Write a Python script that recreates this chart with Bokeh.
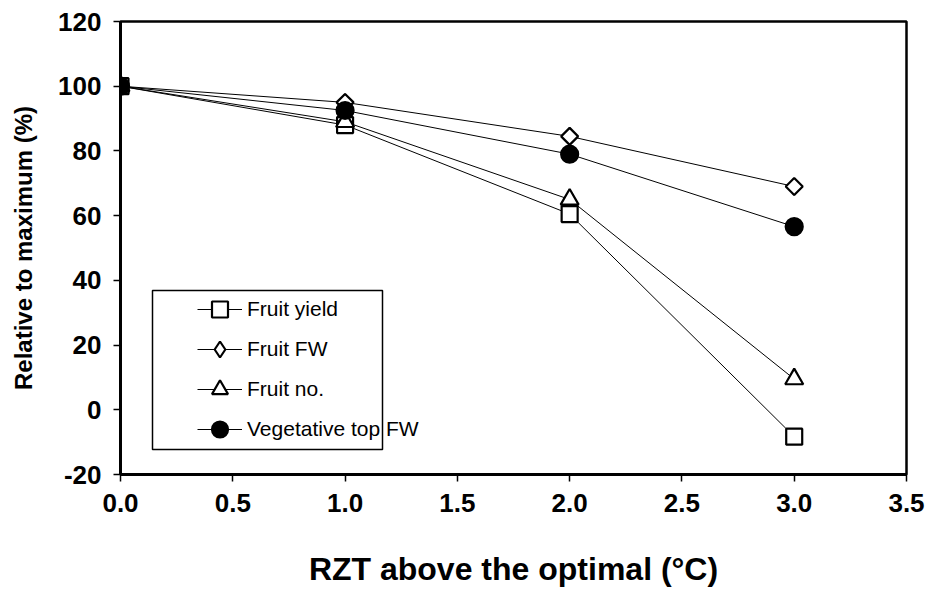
from bokeh.plotting import figure
from bokeh.models import FixedTicker, NumeralTickFormatter, Range1d, Legend, LegendItem, BoxAnnotation
from bokeh.embed import file_html
from bokeh.resources import INLINE
import math

x = [0.0, 1.0, 2.0, 3.0]
fruit_yield = [100, 88, 60.5, -8.3]
fruit_fw = [100, 95, 84.5, 69]
fruit_no = [100, 89, 65, 9.5]
veg_top_fw = [100, 92.5, 79, 56.6]

x_ticks = [0, 0.5, 1.0, 1.5, 2.0, 2.5, 3.0, 3.5]
y_ticks = [-20, 0, 20, 40, 60, 80, 100, 120]
y_tick_labels = ["-20", "0", "20", "40", "60", "80", "100", "120"]

p = figure(width=927, height=589, output_backend="svg", toolbar_location=None,
           x_range=Range1d(0, 3.5), y_range=Range1d(-20, 120),
           min_border_left=120, min_border_right=21, min_border_top=21, min_border_bottom=113)
p.xgrid.visible = False
p.ygrid.visible = False
p.outline_line_color = "black"
p.outline_line_width = 2.5
p.background_fill_color = "white"
p.border_fill_color = "white"

font = "Liberation Sans"
for ax in (p.xaxis[0], p.yaxis[0]):
    ax.axis_line_width = 3
    ax.axis_line_color = "black"
    ax.major_tick_line_width = 1.5
    ax.major_tick_line_color = "black"
    ax.major_tick_out = 7
    ax.major_tick_in = 0
    ax.minor_tick_line_color = None
    ax.major_label_text_font = font
    ax.major_label_text_font_style = "bold"
    ax.major_label_text_font_size = "26px"
    ax.major_label_text_color = "black"
    ax.axis_label_text_font = font
    ax.axis_label_text_font_style = "bold"
    ax.axis_label_text_color = "black"

p.xaxis.axis_label_text_font_size = "32px"
p.yaxis.axis_label_text_font_size = "24px"
p.xaxis.ticker = FixedTicker(ticks=x_ticks)
p.xaxis.formatter = NumeralTickFormatter(format="0.0")
p.yaxis.ticker = FixedTicker(ticks=y_ticks)
p.yaxis.major_label_overrides = {t: s for t, s in zip(y_ticks, y_tick_labels)}
p.xaxis.major_label_standoff = 12
p.yaxis.major_label_standoff = 12
p.xaxis.axis_label = "RZT above the optimal (\u00b0C)"
p.yaxis.axis_label = "Relative to maximum (%)"
p.xaxis.axis_label_standoff = 36
p.yaxis.axis_label_standoff = 18

# legend frame (screen units, relative to the plot frame, y measured upward)
p.add_layout(BoxAnnotation(left=32, right=262, bottom=25, top=184,
                           left_units="screen", right_units="screen",
                           top_units="screen", bottom_units="screen",
                           fill_color="white", fill_alpha=1,
                           line_color="black", line_alpha=1, line_width=1.5,
                           level="overlay"))

items = []
specs = [
    ("Fruit yield", fruit_yield, "square", 16, "white", 0, "square"),
    ("Fruit FW", fruit_fw, "square", 12, "white", math.pi / 4, "diamond"),
    ("Fruit no.", fruit_no, "triangle", 18, "white", 0, "triangle"),
    ("Vegetative top FW", veg_top_fw, "circle", 17, "black", 0, "circle"),
]
for label, ys, marker, size, fill, ang, leg_marker in specs:
    l = p.line(x, ys, line_color="black", line_width=1)
    leg = None
    if leg_marker != marker:
        # proxy drawn underneath the rotated square so that the legend shows a diamond
        leg = p.scatter(x, ys, marker=leg_marker, size=16, fill_color=fill,
                        line_color="black", line_width=2.2)
    s = p.scatter(x, ys, marker=marker, size=size, angle=ang, fill_color=fill,
                  line_color="black", line_width=2.2)
    items.append(LegendItem(label=label, renderers=[l, leg if leg is not None else s]))

legend = Legend(items=items, location=(77, 25))
legend.label_text_font = font
legend.label_text_font_size = "21px"
legend.label_text_color = "black"
legend.glyph_width = 45
legend.glyph_height = 40
legend.label_height = 40
legend.spacing = 0
legend.padding = 0
legend.margin = 0
legend.label_standoff = 5
legend.border_line_color = None
legend.background_fill_alpha = 0
p.add_layout(legend, "center")

open("out.html", "w").write(file_html(p, INLINE))
